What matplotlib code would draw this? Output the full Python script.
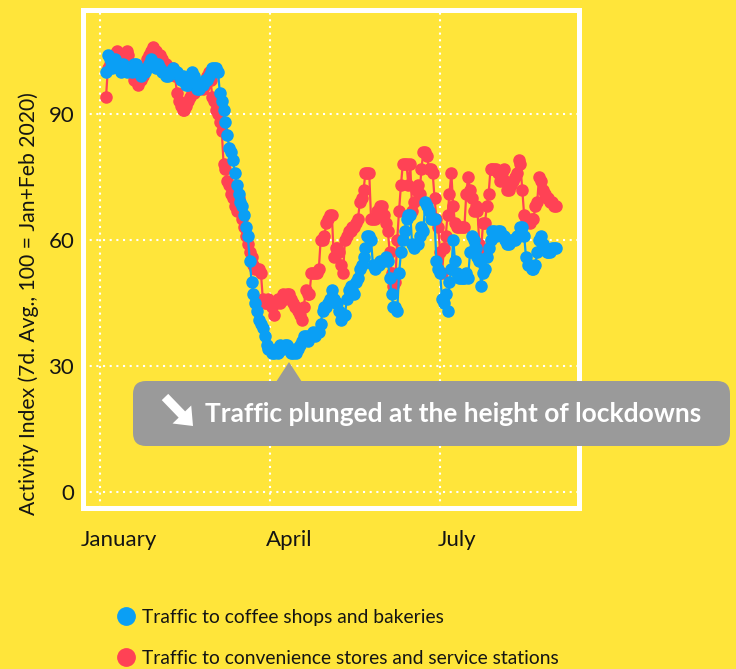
import pandas as pd
import matplotlib
matplotlib.use("Agg")
import matplotlib.pyplot as plt
from matplotlib.patches import FancyBboxPatch, Polygon, FancyArrow

# daily 7d-average activity index, starting 2020-01-04
startDate = "2020-01-04"
coffeeValues = [
    100, 104, 103, 101, 102, 103, 102, 101, 100, 102,
    101, 100, 101, 101, 100, 102, 102, 101, 100, 99,
    100, 100, 101, 102, 103, 102, 102, 101, 102, 101,
    100, 100, 99, 99, 100, 100, 101, 100, 100, 99,
    98, 99, 98, 97, 97, 98, 100, 99, 97, 96,
    96, 97, 97, 98, 98, 99, 100, 101, 101, 101,
    100, 95, 93, 91, 88, 85, 82, 81, 79, 76,
    73, 71, 69, 68, 66, 63, 61, 55, 50, 47,
    45, 43, 41, 40, 39, 37, 35, 34, 34, 33,
    33, 34, 33, 35, 34, 34, 35, 35, 34, 33,
    33, 34, 33, 34, 35, 36, 37, 37, 36, 37,
    37, 38, 37, 38, 38, 40, 43, 44, 44, 45,
    46, 48, 46, 45, 45, 43, 41, 42, 42, 46,
    48, 49, 48, 47, 50, 51, 53, 54, 56, 58,
    61, 61, 60, 54, 53, 54, 54, 55, 55, 55,
    56, 55, 51, 47, 44, 44, 43, 52, 57, 60,
    62, 65, 66, 66, 59, 58, 59, 59, 61, 63,
    62, 69, 68, 67, 65, 65, 65, 55, 53, 52,
    46, 45, 47, 43, 50, 53, 60, 55, 52, 51,
    51, 51, 51, 52, 51, 57, 61, 60, 58, 56,
    55, 49, 52, 53, 56, 58, 60, 62, 62, 61,
    62, 62, 61, 61, 60, 59, 59, 60, 60, 60,
    61, 61, 63, 63, 61, 56, 54, 54, 53, 53,
    54, 57, 60, 61, 59, 58, 57, 57, 57, 58,
    58, 58,
]
convenienceValues = [
    94, 101, 102, 103, 104, 104, 105, 104, 103, 103,
    104, 105, 104, 102, 100, 98, 98, 97, 98, 98,
    99, 101, 103, 104, 105, 106, 105, 105, 104, 104,
    103, 102, 102, 101, 101, 100, 101, 99, 95, 93,
    92, 91, 91, 92, 93, 94, 95, 95, 96, 96,
    96, 97, 96, 97, 99, 100, 98, 94, 93, 91,
    90, 88, 86, 78, 77, 74, 73, 71, 70, 68,
    67, 70, 68, 65, 63, 61, 59, 57, 56, 54,
    53, 53, 53, 52, 46, 45, 45, 46, 45, 44,
    42, 45, 46, 45, 46, 47, 46, 47, 47, 46,
    45, 44, 44, 43, 42, 41, 44, 48, 47, 47,
    52, 52, 52, 52, 53, 60, 60, 61, 64, 65,
    66, 66, 56, 58, 58, 57, 54, 52, 60, 61,
    62, 62, 63, 63, 64, 65, 69, 70, 72, 76,
    76, 76, 65, 65, 65, 67, 66, 68, 68, 66,
    64, 62, 57, 52, 49, 50, 60, 67, 73, 78,
    78, 78, 73, 78, 67, 69, 72, 73, 71, 77,
    81, 81, 80, 77, 77, 76, 70, 65, 63, 57,
    52, 58, 61, 66, 71, 76, 68, 64, 63, 63,
    63, 63, 63, 71, 75, 72, 70, 67, 68, 67,
    59, 58, 64, 64, 68, 71, 77, 77, 77, 77,
    76, 74, 76, 77, 74, 72, 72, 73, 74, 75,
    76, 79, 78, 72, 66, 65, 65, 64, 65, 65,
    68, 69, 75, 74, 72, 71, 70, 70, 69, 69,
    68, 68,
]
seriesLabels = ["Traffic to coffee shops and bakeries",
                "Traffic to convenience stores and service stations"]
monthTicks = ["2020-01-01", "2020-04-01", "2020-07-01"]
monthLabels = ["January", "April", "July"]
monthLabelDates = ["2020-01-11", "2020-04-11", "2020-07-10"]
yTicks = [0, 30, 60, 90]
calloutText = "Traffic plunged at the height of lockdowns"

yellow = "#FFE53A"
blue = "#0A9FF5"
red = "#FF4255"
grey = "#9A9A9A"
ink = "#141414"
fontName = "Lato"

dates = pd.date_range(startDate, periods=len(coffeeValues), freq="D")
W, H = 736, 669

fig = plt.figure(figsize=(W / 100, H / 100), dpi=100, facecolor=yellow)
ax = fig.add_axes([82.5 / W, 1 - 507.5 / H, 496.5 / W, 497.5 / H])
ax.set_facecolor(yellow)

ax.plot(dates, convenienceValues, color=red, marker="o", markersize=8, linewidth=1.6, zorder=3)
ax.plot(dates, coffeeValues, color=blue, marker="o", markersize=8, linewidth=1.6, zorder=4)

jan1 = pd.Timestamp("2020-01-01")
ax.set_xlim(jan1 - pd.Timedelta(days=9.6), jan1 + pd.Timedelta(days=256.4))
ax.set_ylim(-3.8, 114.8)
ax.set_yticks(yTicks)
ax.set_xticks(pd.to_datetime(monthTicks))
ax.set_xticklabels([])
ax.tick_params(length=0, labelsize=16, labelcolor=ink, pad=6)
for lbl in ax.get_yticklabels():
    lbl.set_fontfamily(fontName)
ax.grid(color="white", linestyle=(0, (1, 2.2)), linewidth=1.5, zorder=1)
for s in ax.spines.values():
    s.set_color("white")
    s.set_linewidth(3.6)

for d, lab in zip(monthLabelDates, monthLabels):
    ax.text(pd.Timestamp(d), -0.065, lab, transform=ax.get_xaxis_transform(),
            ha="center", va="center", fontsize=16, color=ink, fontfamily=fontName)

fig.text(29 / W, 1 - 304 / H, "Activity Index (7d. Avg., 100 = Jan+Feb 2020)",
         rotation=90, ha="center", va="center", fontsize=15.2, color=ink, fontfamily=fontName)

# overlay in pixel coordinates for the callout and legend
ov = fig.add_axes([0, 0, 1, 1], zorder=10)
ov.set_xlim(0, W)
ov.set_ylim(H, 0)
ov.axis("off")
ov.patch.set_alpha(0)

ov.add_patch(FancyBboxPatch((133, 381), 597, 65, boxstyle="round,pad=0,rounding_size=13",
                            facecolor=grey, edgecolor="none"))
ov.add_patch(Polygon([(276, 382), (289, 362), (302, 382)], closed=True,
                     facecolor=grey, edgecolor="none"))
ov.add_patch(FancyArrow(165, 397, 28, 29, width=9, head_width=26, head_length=16,
                        length_includes_head=True, facecolor="white", edgecolor="none"))
ov.text(205, 421.5, calloutText, ha="left", va="baseline", fontsize=19,
        fontweight="bold", color="white", fontfamily=fontName)

for yPos, col, lab in zip([616, 657], [blue, red], seriesLabels):
    ov.plot([126], [yPos], marker="o", markersize=12.5, color=col, linestyle="none")
    ov.text(142, yPos + 6.5, lab, ha="left", va="baseline", fontsize=13.9,
            color=ink, fontfamily=fontName)

fig.savefig("out.png", dpi=100, facecolor=yellow)
